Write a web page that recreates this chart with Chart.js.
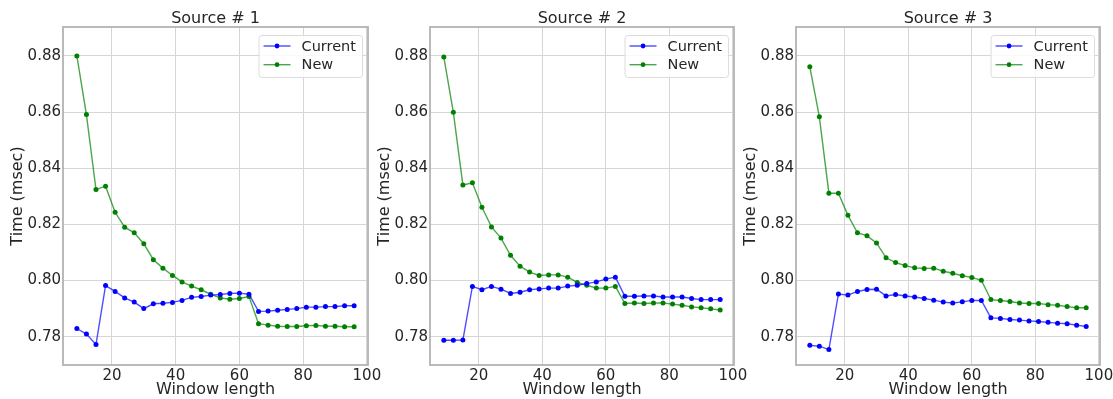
<!DOCTYPE html>
<html>
<head>
<meta charset="utf-8">
<script src="https://cdn.jsdelivr.net/npm/chart.js@4"></script>
<style>
  body { margin: 0; background: #fff; }
  #wrap { position: relative; width: 1113px; height: 399px; overflow: hidden; }
  .plot { position: absolute; top: 0; height: 399px; }
</style>
</head>
<body>
<div id="wrap">
  <div class="plot" style="left:0;width:385px"><canvas id="c1"></canvas></div>
  <div class="plot" style="left:367px;width:384px"><canvas id="c2"></canvas></div>
  <div class="plot" style="left:733px;width:380px"><canvas id="c3"></canvas></div>
</div>
<script>
// x values (window length)
const windowLength = [9,12,15,18,21,24,27,30,33,36,39,42,45,48,51,54,57,60,63,66,69,72,75,78,81,84,87,90,93,96];

// Source # 1
const current1 = [0.7829,0.7809,0.7772,0.7982,0.7961,0.7938,0.7923,0.7900,0.7917,0.7919,0.7922,0.7929,0.7940,0.7943,0.7948,0.7950,0.7954,0.7955,0.7951,0.7890,0.7891,0.7894,0.7897,0.7900,0.7905,0.7905,0.7907,0.7907,0.7910,0.7910];
const new1     = [0.8800,0.8591,0.8324,0.8336,0.8243,0.8190,0.8170,0.8131,0.8074,0.8044,0.8018,0.7995,0.7980,0.7967,0.7951,0.7938,0.7933,0.7936,0.7943,0.7846,0.7841,0.7837,0.7836,0.7836,0.7839,0.7840,0.7837,0.7837,0.7835,0.7835];

// Source # 2
const current2 = [0.7787,0.7787,0.7788,0.7979,0.7967,0.7979,0.7969,0.7954,0.7958,0.7967,0.7970,0.7973,0.7973,0.7980,0.7983,0.7989,0.7995,0.8005,0.8012,0.7944,0.7944,0.7945,0.7945,0.7941,0.7941,0.7941,0.7936,0.7932,0.7932,0.7932];
const new2     = [0.8796,0.8599,0.8340,0.8348,0.8261,0.8191,0.8151,0.8090,0.8051,0.8030,0.8018,0.8020,0.8020,0.8012,0.7993,0.7983,0.7973,0.7973,0.7979,0.7918,0.7920,0.7918,0.7920,0.7920,0.7916,0.7912,0.7906,0.7903,0.7899,0.7895];

// Source # 3
const current3 = [0.7769,0.7766,0.7754,0.7952,0.7948,0.7961,0.7968,0.7969,0.7945,0.7950,0.7945,0.7941,0.7936,0.7930,0.7923,0.7920,0.7924,0.7929,0.7929,0.7867,0.7865,0.7861,0.7859,0.7856,0.7854,0.7851,0.7848,0.7846,0.7841,0.7836];
const new3     = [0.8761,0.8583,0.8311,0.8311,0.8232,0.8170,0.8159,0.8134,0.8081,0.8064,0.8053,0.8045,0.8043,0.8044,0.8033,0.8026,0.8017,0.8011,0.8001,0.7932,0.7929,0.7925,0.7920,0.7918,0.7918,0.7914,0.7912,0.7907,0.7903,0.7903];

const xTicks = [20, 40, 60, 80, 100];
const yTicks = [0.78, 0.80, 0.82, 0.84, 0.86, 0.88];
const titles = ["Source # 1", "Source # 2", "Source # 3"];
const seriesNames = ["Current", "New"];

const FONT = "'DejaVu Sans', sans-serif";
const TXT = '#262626';

// ------------------------------
// title, frame and legend drawn around/inside the plot area (matplotlib look)
// ------------------------------
const framePlugin = {
  id: 'frame',
  afterDraw(chart, args, opts) {
    const { ctx, chartArea: a } = chart;
    ctx.save();
    ctx.strokeStyle = '#b3b3b3';
    ctx.lineWidth = 1.8;
    ctx.strokeRect(a.left, a.top, a.right - a.left, a.bottom - a.top);

    // title centred over the axes
    ctx.font = '16px ' + FONT;
    ctx.fillStyle = TXT;
    ctx.textAlign = 'center';
    ctx.textBaseline = 'middle';
    ctx.fillText(opts.title, (a.left + a.right) / 2, 18.5);

    // legend box
    ctx.font = '14.5px ' + FONT;
    const tw = Math.max(...chart.data.datasets.map(d => ctx.measureText(d.label).width));
    const w = 43 + tw + 6, h = 42;
    const x = a.right - 6 - w, y = a.top + 8;
    ctx.fillStyle = 'rgba(255,255,255,0.85)';
    ctx.strokeStyle = '#dcdcdc';
    ctx.lineWidth = 1;
    ctx.beginPath();
    ctx.roundRect(x + 0.5, y + 0.5, w, h, 3);
    ctx.fill();
    ctx.stroke();

    chart.data.datasets.forEach((ds, i) => {
      const cy = y + 11 + i * 18.7;
      ctx.strokeStyle = ds.borderColor;
      ctx.lineWidth = 1.4;
      ctx.beginPath();
      ctx.moveTo(x + 5, cy);
      ctx.lineTo(x + 32, cy);
      ctx.stroke();
      ctx.fillStyle = ds.pointBackgroundColor;
      ctx.beginPath();
      ctx.arc(x + 18.5, cy, 2.4, 0, Math.PI * 2);
      ctx.fill();
      ctx.fillStyle = TXT;
      ctx.textBaseline = 'middle';
      ctx.textAlign = 'left';
      ctx.fillText(ds.label, x + 43, cy + 1);
    });
    ctx.restore();
  }
};

function makeChart(id, title, cur, nw, padRight) {
  const ctx = document.getElementById(id).getContext('2d');
  return new Chart(ctx, {
    type: 'line',
    data: {
      datasets: [
        {
          label: seriesNames[0],
          data: windowLength.map((x, i) => ({ x, y: cur[i] })),
          borderColor: 'rgba(0,0,255,0.7)',
          borderWidth: 1.4,
          pointBackgroundColor: '#0000ff',
          pointBorderColor: '#0000ff',
          pointRadius: 2.5,
          pointBorderWidth: 0,
          tension: 0
        },
        {
          label: seriesNames[1],
          data: windowLength.map((x, i) => ({ x, y: nw[i] })),
          borderColor: 'rgba(0,128,0,0.7)',
          borderWidth: 1.4,
          pointBackgroundColor: '#008000',
          pointBorderColor: '#008000',
          pointRadius: 2.5,
          pointBorderWidth: 0,
          tension: 0
        }
      ]
    },
    options: {
      responsive: true,
      maintainAspectRatio: false,
      animation: false,
      layout: { padding: { left: 0, right: padRight, top: 27, bottom: 0 } },
      plugins: {
        legend: { display: false },
        tooltip: { enabled: false },
        title: { display: false },
        frame: { title }
      },
      scales: {
        x: {
          type: 'linear',
          min: 4.65,
          max: 100.35,
          afterBuildTicks: s => { s.ticks = xTicks.map(v => ({ value: v })); },
          afterFit: s => { s.height = 34; s.paddingLeft = 0; s.paddingRight = 0; },
          grid: { color: '#d6d6d6', lineWidth: 1, drawTicks: false },
          border: { display: false },
          ticks: { color: TXT, font: { family: FONT, size: 15 }, padding: 2, maxRotation: 0 },
          title: { display: true, text: 'Window length', color: TXT,
                   font: { family: FONT, size: 16 }, padding: { top: 0, bottom: 0 } }
        },
        y: {
          type: 'linear',
          min: 0.7699,
          max: 0.8903,
          afterBuildTicks: s => { s.ticks = yTicks.map(v => ({ value: v })); },
          afterFit: s => { s.width = 63; s.paddingTop = 0; s.paddingBottom = 0; },
          grid: { color: '#d6d6d6', lineWidth: 1, drawTicks: false },
          border: { display: false },
          ticks: { color: TXT, font: { family: FONT, size: 15 }, padding: 2,
                   callback: v => v.toFixed(2) },
          title: { display: true, text: 'Time (msec)', color: TXT,
                   font: { family: FONT, size: 16 }, padding: { top: 8, bottom: 0 } }
        }
      }
    },
    plugins: [framePlugin]
  });
}

makeChart('c1', titles[0], current1, new1, 17);
makeChart('c2', titles[1], current2, new2, 17);
makeChart('c3', titles[2], current3, new3, 13);
</script>
</body>
</html>
